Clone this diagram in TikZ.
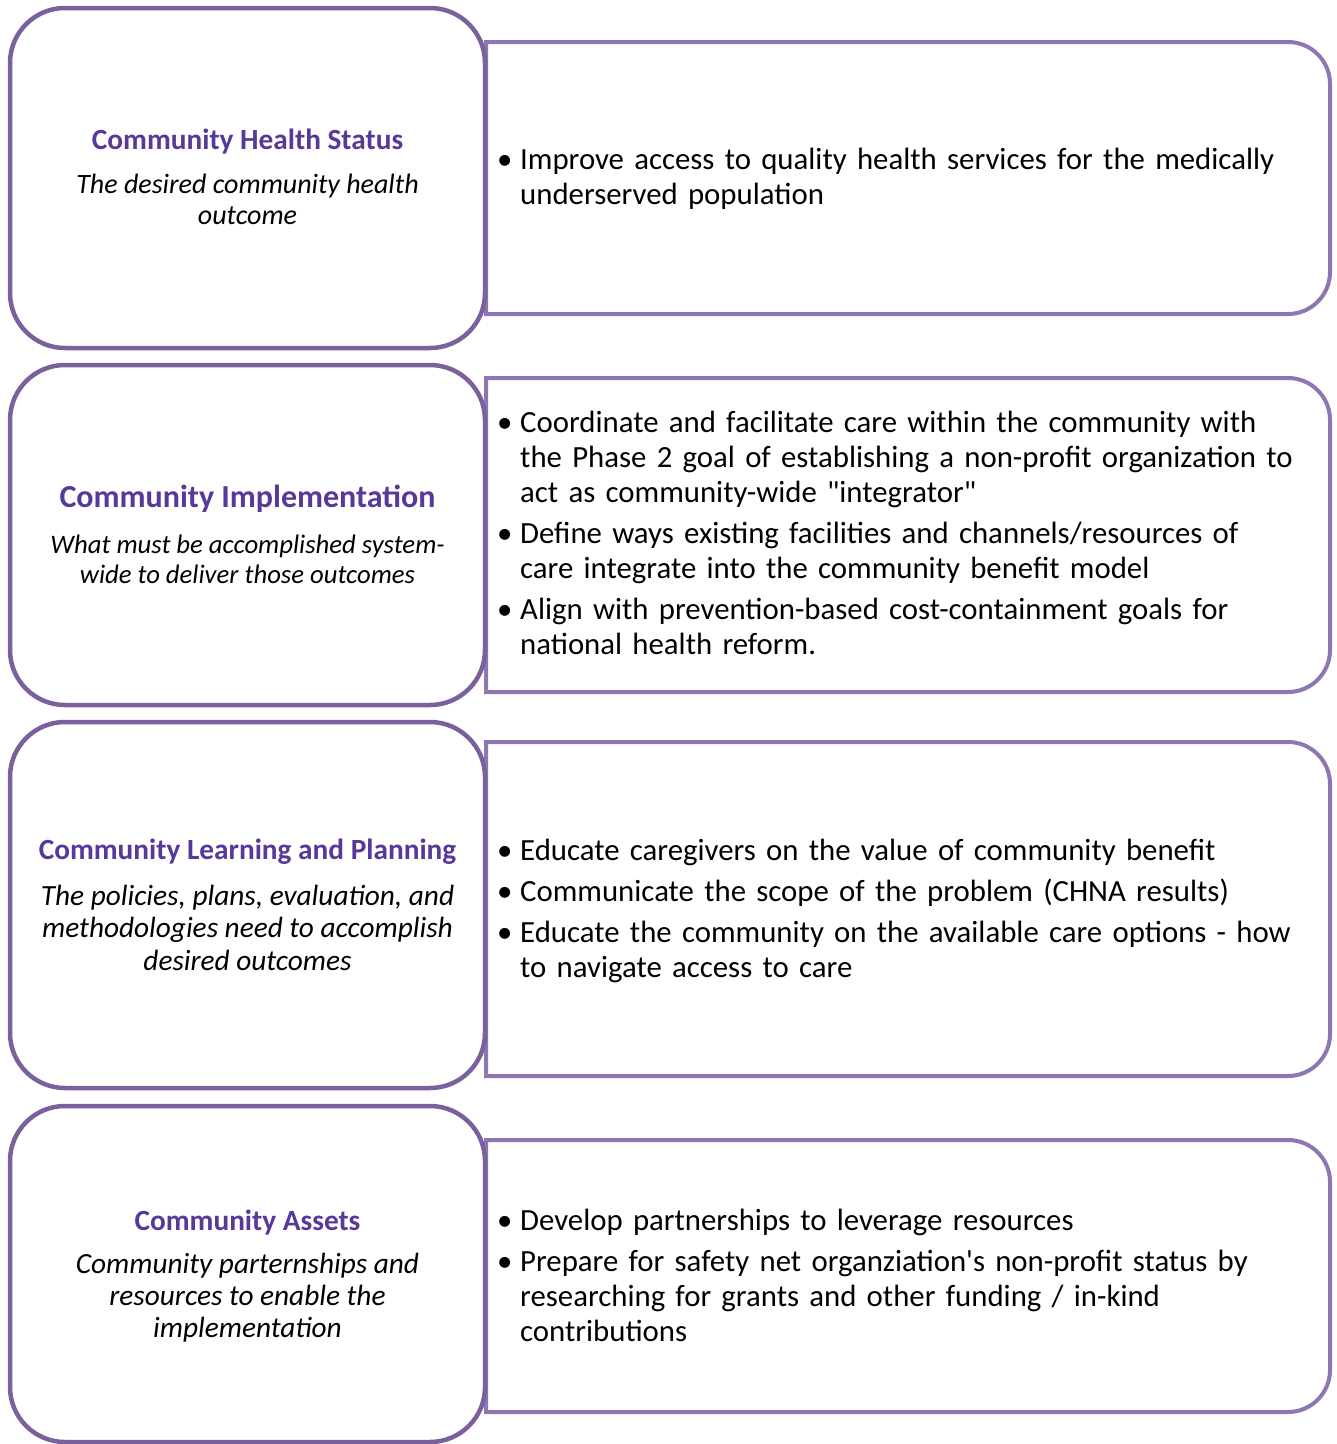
\documentclass[tikz,border=0pt]{standalone}
\usepackage{fontspec}
\setmainfont{Carlito}
\definecolor{leftline}{RGB}{122,96,156}
\definecolor{rightline}{RGB}{141,118,178}
\definecolor{titlecol}{RGB}{88,56,152}
\newcommand{\bitem}[1]{\par\hangindent=23pt\hangafter=1\noindent\makebox[23pt][l]{\textbullet}#1\par}
\tikzset{
  leftbox/.style={draw=leftline, line width=4.5pt, fill=white, rounded corners=55pt},
  rightbox/.style={draw=rightline, line width=4pt},
  ttl/.style={inner sep=0pt, text=titlecol, font=\bfseries\fontsize{29.3}{35}\selectfont},
  desc/.style={inner sep=0pt, align=center, font=\itshape\fontsize{28}{31}\selectfont},
  bullets/.style={anchor=west, inner sep=0pt, text width=835pt,
    font=\fontsize{30.8}{35}\selectfont\setlength{\parskip}{6pt}\raggedright}
}
\begin{document}
\begin{tikzpicture}[x=1pt,y=-1pt]
\useasboundingbox (0,0) rectangle (1337,1444);
% ---------- row 1
\draw[rightbox] (486,42) [rounded corners=42pt] -- (1330,42) -- (1330,314) [sharp corners] -- (486,314) -- cycle;
\draw[leftbox] (10,8) rectangle (485,348);
\node[ttl] (t1) at (247.5,142) {Community Health Status};
\node[desc] (d1) at (247.5,199.5) {The desired community health\\outcome};
\node[bullets] (b1) at (497,169) {\bitem{Improve access to quality health services for the medically\newline underserved population}};
% ---------- row 2
\draw[rightbox] (486,378) [rounded corners=42pt] -- (1330,378) -- (1330,692) [sharp corners] -- (486,692) -- cycle;
\draw[leftbox] (10,365) rectangle (485,705);
\node[ttl, font=\bfseries\fontsize{32}{38}\selectfont] (t2) at (247.5,499) {Community Implementation};
\node[desc, font=\itshape\fontsize{26.7}{30}\selectfont] (d2) at (247.5,559) {What must be accomplished system-\\wide to deliver those outcomes};
\node[bullets] (b2) at (497,523) {\bitem{Coordinate and facilitate care within the community with\newline the Phase 2 goal of establishing a non-profit organization to\newline act as community-wide \textquotedbl integrator\textquotedbl}\bitem{Define ways existing facilities and channels/resources of\newline care integrate into the community benefit model}\bitem{Align with prevention-based cost-containment goals for\newline national health reform.}};
% ---------- row 3
\draw[rightbox] (486,742) [rounded corners=42pt] -- (1330,742) -- (1330,1076) [sharp corners] -- (486,1076) -- cycle;
\draw[leftbox] (10,722) rectangle (485,1088);
\node[ttl] (t3) at (247.5,852) {Community Learning and Planning};
\node[desc, font=\itshape\fontsize{29.3}{32.5}\selectfont] (d3) at (247.5,927.5) {The policies, plans, evaluation, and\\methodologies need to accomplish\\desired outcomes};
\node[bullets] (b3) at (497,901) {\bitem{Educate caregivers on the value of community benefit}\bitem{Communicate the scope of the problem (CHNA results)}\bitem{Educate the community on the available care options - how\newline to navigate access to care}};
% ---------- row 4
\draw[rightbox] (486,1140) [rounded corners=42pt] -- (1330,1140) -- (1330,1412) [sharp corners] -- (486,1412) -- cycle;
\draw[leftbox] (10,1106) rectangle (485,1442);
\node[ttl] (t4) at (247.5,1223) {Community Assets};
\node[desc, font=\itshape\fontsize{29.3}{32}\selectfont] (d4) at (247.5,1298) {Community parternships and\\resources to enable the\\implementation};
\node[bullets] (b4) at (497,1266) {\bitem{Develop partnerships to leverage resources}\bitem{Prepare for safety net organziation\textquotesingle s non-profit status by\newline researching for grants and other funding / in-kind\newline contributions}};
\end{tikzpicture}
\end{document}
